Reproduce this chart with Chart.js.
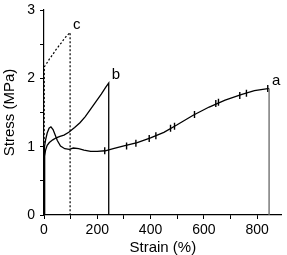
<!DOCTYPE html>
<html>
<head>
<meta charset="utf-8">
<script src="https://cdn.jsdelivr.net/npm/chart.js@4"></script>
<style>
  body { margin: 0; background: #fff; }
  #wrap { width: 287px; height: 255px; }
</style>
</head>
<body>
<div id="wrap"><canvas id="myChart"></canvas></div>
<script>
'use strict';
// curve a
const aStrain = [0, 1, 3, 6, 12, 19, 26, 34, 42, 50, 62, 78, 95, 110, 130, 150, 175, 200, 230, 260, 300, 350, 400, 450, 500, 560, 620, 680, 740, 790, 840, 845, 845];
const aStress = [0, 0.75, 1.0, 1.1, 1.2, 1.27, 1.29, 1.25, 1.17, 1.09, 1.01, 0.97, 0.96, 0.98, 0.97, 0.95, 0.93, 0.93, 0.94, 0.97, 1.01, 1.06, 1.13, 1.21, 1.32, 1.46, 1.58, 1.68, 1.76, 1.82, 1.85, 1.85, 0];
// little cross marks on curve a
const markStrain = [228, 310, 345, 395, 420, 475, 490, 565, 645, 655, 735, 760, 840];
const markStress = [0.94, 1.01, 1.05, 1.12, 1.16, 1.27, 1.30, 1.47, 1.63, 1.65, 1.75, 1.78, 1.85];
// curve b
const bStrain = [0, 1, 3, 6, 12, 20, 33, 46, 60, 75, 93, 115, 135, 155, 175, 195, 215, 232, 243, 243];
const bStress = [0, 0.7, 0.86, 0.95, 1.02, 1.06, 1.1, 1.13, 1.15, 1.17, 1.21, 1.28, 1.35, 1.44, 1.55, 1.66, 1.77, 1.87, 1.93, 0];
// curve c (dotted)
const cStrain = [0, 1, 3, 10, 20, 33, 45, 55, 65, 78, 90, 98, 98];
const cStress = [0, 2.17, 2.18, 2.22, 2.28, 2.35, 2.42, 2.47, 2.52, 2.59, 2.64, 2.67, 0];

const curveNames = ['a', 'b', 'c'];
// ticks (minor ones get no label)
const xTicks = [0, 100, 200, 300, 400, 500, 600, 700, 800];
const xTickLabels = ['0', '200', '400', '600', '800'];
const yTicks = [0, 0.5, 1, 1.5, 2, 2.5, 3];
const yTickLabels = ['0', '1', '2', '3'];
const xTitle = 'Strain (%)';
const yTitle = 'Stress (MPa)';

function toPoints(xs, ys) {
  let pts = [];
  for (let i = 0; i < xs.length; i++) {
    pts.push({ x: xs[i], y: ys[i] });
  }
  return pts;
}

const font = 'Liberation Sans, Arial, sans-serif';

// write a, b, c next to the top of each curve
const curveLabels = {
  id: 'curveLabels',
  afterDatasetsDraw(chart) {
    const ctx = chart.ctx;
    const xs = chart.scales.x;
    const ys = chart.scales.y;
    const tops = [
      [aStrain[aStrain.length - 2], aStress[aStress.length - 2]],
      [bStrain[bStrain.length - 2], bStress[bStress.length - 2]],
      [cStrain[cStrain.length - 2], cStress[cStress.length - 2]]
    ];
    ctx.save();
    ctx.fillStyle = '#000';
    ctx.font = '15px ' + font;
    ctx.textAlign = 'left';
    ctx.textBaseline = 'middle';
    for (let i = 0; i < tops.length; i++) {
      ctx.fillText(curveNames[i], xs.getPixelForValue(tops[i][0]) + 3, ys.getPixelForValue(tops[i][1]) - 8);
    }
    ctx.restore();
  }
};

const lastA = aStrain.length - 1;

let ctx = document.getElementById('myChart').getContext('2d');
let chart = new Chart(ctx, {
  type: 'scatter',
  data: {
    datasets: [{
      label: 'a',
      data: toPoints(aStrain, aStress),
      showLine: true,
      borderColor: '#000',
      borderWidth: 1.3,
      pointRadius: 0,
      tension: 0,
      segment: {
        borderColor: c => c.p1DataIndex === lastA ? '#666' : '#000'
      }
    },
    {
      label: 'a marks',
      data: toPoints(markStrain, markStress),
      showLine: false,
      pointStyle: 'line',
      rotation: 90,
      pointRadius: 3.5,
      borderColor: '#000',
      borderWidth: 1.4
    },
    {
      label: 'b',
      data: toPoints(bStrain, bStress),
      showLine: true,
      borderColor: '#000',
      borderWidth: 1.3,
      pointRadius: 0,
      tension: 0
    },
    {
      label: 'c',
      data: toPoints(cStrain, cStress),
      showLine: true,
      borderColor: '#000',
      borderWidth: 1.2,
      borderDash: [2, 2],
      pointRadius: 0,
      tension: 0
    }]
  },
  options: {
    responsive: true,
    maintainAspectRatio: false,
    animation: false,
    layout: { padding: { top: 10, right: 0, left: 0, bottom: 0 } },
    plugins: {
      legend: { display: false },
      tooltip: { enabled: false }
    },
    scales: {
      x: {
        type: 'linear',
        min: 0,
        max: 892,
        afterFit: s => { s.height = 40; s.paddingLeft = 0; s.paddingRight = 0; },
        afterBuildTicks: s => { s.ticks = xTicks.map(v => ({ value: v })); },
        border: { display: true, color: '#000', width: 1.2 },
        grid: { drawOnChartArea: false, drawTicks: true, tickLength: 4, color: '#000' },
        ticks: {
          autoSkip: false,
          maxRotation: 0,
          padding: 3,
          color: '#000',
          font: { family: font, size: 14 },
          callback: v => (xTickLabels.includes(String(v)) ? String(v) : '')
        },
        title: {
          display: true,
          text: xTitle,
          color: '#000',
          font: { family: font, size: 15, lineHeight: 1 },
          padding: { top: 0, bottom: 0 }
        }
      },
      y: {
        type: 'linear',
        min: 0,
        max: 3,
        afterFit: s => { s.width = 44; s.paddingTop = 0; s.paddingBottom = 0; },
        afterBuildTicks: s => { s.ticks = yTicks.map(v => ({ value: v })); },
        border: { display: true, color: '#000', width: 1.2 },
        grid: { drawOnChartArea: false, drawTicks: true, tickLength: 4, color: '#000' },
        ticks: {
          autoSkip: false,
          padding: 5,
          color: '#000',
          font: { family: font, size: 14 },
          callback: v => (yTickLabels.includes(String(v)) ? String(v) : '')
        },
        title: {
          display: true,
          text: yTitle,
          color: '#000',
          font: { family: font, size: 15 },
          padding: { top: 1, bottom: 0 }
        }
      }
    }
  },
  plugins: [curveLabels]
});
</script>
</body>
</html>
